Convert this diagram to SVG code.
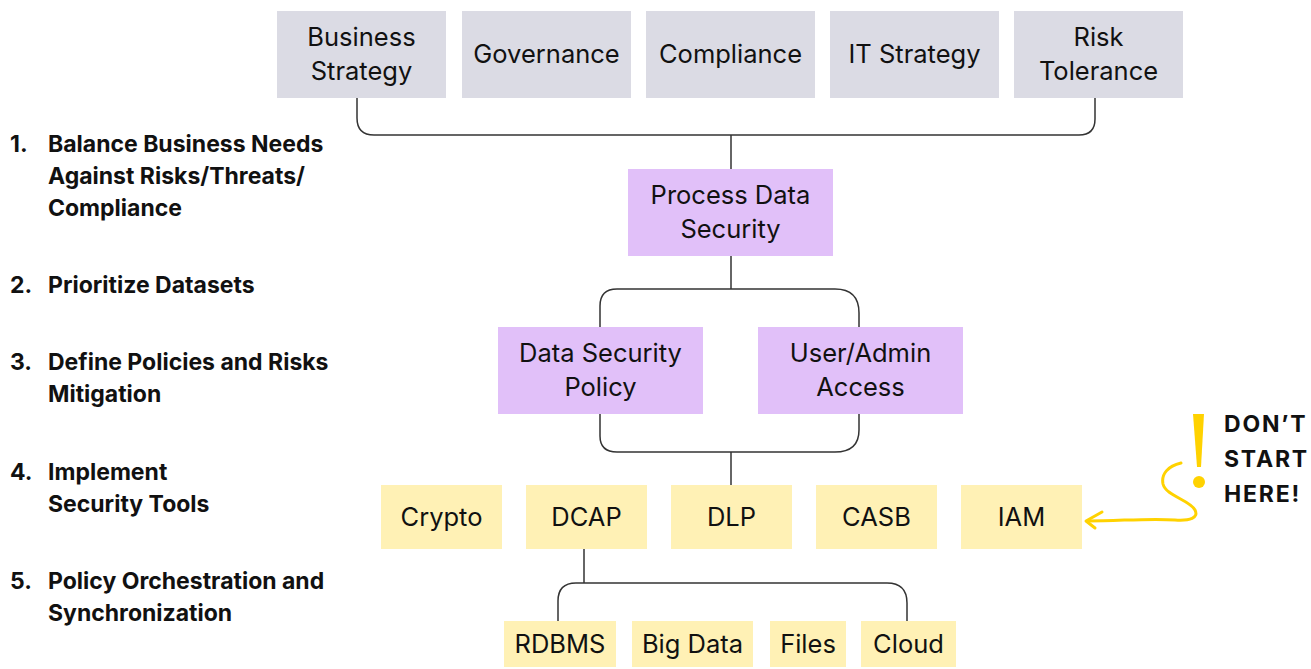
<svg xmlns="http://www.w3.org/2000/svg" width="1311" height="669" viewBox="0 0 1311 669">
<style>
.gray{fill:#DBDBE4}
.purple{fill:#E1C0F9}
.yellow{fill:#FFF1B5}
.lbl{font-family:Inter,"Liberation Sans",sans-serif;font-size:25.5px;fill:#111;text-anchor:middle}
.list{font-family:Inter,"Liberation Sans",sans-serif;font-size:23px;font-weight:700;fill:#111}
.warn{font-family:Inter,"Liberation Sans",sans-serif;font-size:23px;font-weight:700;fill:#111;letter-spacing:1.8px}
.conn{fill:none;stroke:#333;stroke-width:1.5}
</style>
<rect width="1311" height="669" fill="#fff"/>
<g id="connectors">
<path class="conn" d="M357,98 V118 Q357,135 374,135 H1079 Q1095,135 1095,119 V98"/>
<path class="conn" d="M731,135 V169"/>
<path class="conn" d="M731,256 V289"/>
<path class="conn" d="M600,327 V306 Q600,289 617,289 H835 Q859,289 859,313 V327"/>
<path class="conn" d="M600,414 V436 Q600,452 617,452 H835 Q859,452 859,430 V414"/>
<path class="conn" d="M731,452 V485"/>
<path class="conn" d="M584,549 V583"/>
<path class="conn" d="M558,621 V601 Q558,583 576,583 H887 Q907,583 907,603 V621"/>
</g>
<g id="business-strategy"><rect class="gray" x="277" y="11" width="169" height="87"/><text class="lbl" x="361.5" y="46">Business</text><text class="lbl" x="361.5" y="80">Strategy</text></g>
<g id="governance"><rect class="gray" x="462" y="11" width="169" height="87"/><text class="lbl" x="546.5" y="63">Governance</text></g>
<g id="compliance"><rect class="gray" x="646" y="11" width="169" height="87"/><text class="lbl" x="730.5" y="63">Compliance</text></g>
<g id="it-strategy"><rect class="gray" x="830" y="11" width="169" height="87"/><text class="lbl" x="914.5" y="63">IT Strategy</text></g>
<g id="risk-tolerance"><rect class="gray" x="1014" y="11" width="169" height="87"/><text class="lbl" x="1098.5" y="46">Risk</text><text class="lbl" x="1098.5" y="80">Tolerance</text></g>
<g id="process-data-security"><rect class="purple" x="628" y="169" width="205" height="87"/><text class="lbl" x="730.5" y="204">Process Data</text><text class="lbl" x="730.5" y="238">Security</text></g>
<g id="data-security-policy"><rect class="purple" x="498" y="327" width="205" height="87"/><text class="lbl" x="600.5" y="362">Data Security</text><text class="lbl" x="600.5" y="396">Policy</text></g>
<g id="user-admin-access"><rect class="purple" x="758" y="327" width="205" height="87"/><text class="lbl" x="860.5" y="362">User/Admin</text><text class="lbl" x="860.5" y="396">Access</text></g>
<g id="crypto"><rect class="yellow" x="381" y="485" width="121" height="64"/><text class="lbl" x="441.5" y="526">Crypto</text></g>
<g id="dcap"><rect class="yellow" x="526" y="485" width="121" height="64"/><text class="lbl" x="586.5" y="526">DCAP</text></g>
<g id="dlp"><rect class="yellow" x="671" y="485" width="121" height="64"/><text class="lbl" x="731.5" y="526">DLP</text></g>
<g id="casb"><rect class="yellow" x="816" y="485" width="121" height="64"/><text class="lbl" x="876.5" y="526">CASB</text></g>
<g id="iam"><rect class="yellow" x="961" y="485" width="121" height="64"/><text class="lbl" x="1021.5" y="526">IAM</text></g>
<g id="rdbms"><rect class="yellow" x="504" y="621" width="112" height="46"/><text class="lbl" x="560" y="653">RDBMS</text></g>
<g id="big-data"><rect class="yellow" x="632" y="621" width="121" height="46"/><text class="lbl" x="692.5" y="653">Big Data</text></g>
<g id="files"><rect class="yellow" x="770" y="621" width="76" height="46"/><text class="lbl" x="808" y="653">Files</text></g>
<g id="cloud"><rect class="yellow" x="861" y="621" width="95" height="46"/><text class="lbl" x="908.5" y="653">Cloud</text></g>
<g id="steps">
<text class="list" x="10" y="152">1.</text><text class="list" x="48" y="152">Balance Business Needs</text>
<text class="list" x="48" y="184">Against Risks/Threats/</text>
<text class="list" x="48" y="216">Compliance</text>
<text class="list" x="10" y="293">2.</text><text class="list" x="48" y="293">Prioritize Datasets</text>
<text class="list" x="10" y="370">3.</text><text class="list" x="48" y="370">Define Policies and Risks</text>
<text class="list" x="48" y="402">Mitigation</text>
<text class="list" x="10" y="480">4.</text><text class="list" x="48" y="480">Implement</text>
<text class="list" x="48" y="512">Security Tools</text>
<text class="list" x="10" y="589">5.</text><text class="list" x="48" y="589">Policy Orchestration and</text>
<text class="list" x="48" y="621">Synchronization</text>
</g>
<g id="warning">
<path d="M1193,414 H1204 L1201,467 H1197 Z" fill="#FFD200"/>
<circle cx="1199" cy="482" r="6" fill="#FFD200"/>
<path d="M1181,463 C1168,466 1161,474 1163,484 C1166,496 1190,500 1195,510 C1199,518 1190,521 1175,520 C1150,518 1120,521 1088,521" fill="none" stroke="#FFD200" stroke-width="3" stroke-linecap="round"/>
<path d="M1102,512 L1086,521 L1095,528" fill="none" stroke="#FFD200" stroke-width="3" stroke-linecap="round" stroke-linejoin="round"/>
<text class="warn" x="1224" y="432">DON’T</text>
<text class="warn" x="1224" y="467">START</text>
<text class="warn" x="1224" y="502">HERE!</text>
</g>
</svg>
